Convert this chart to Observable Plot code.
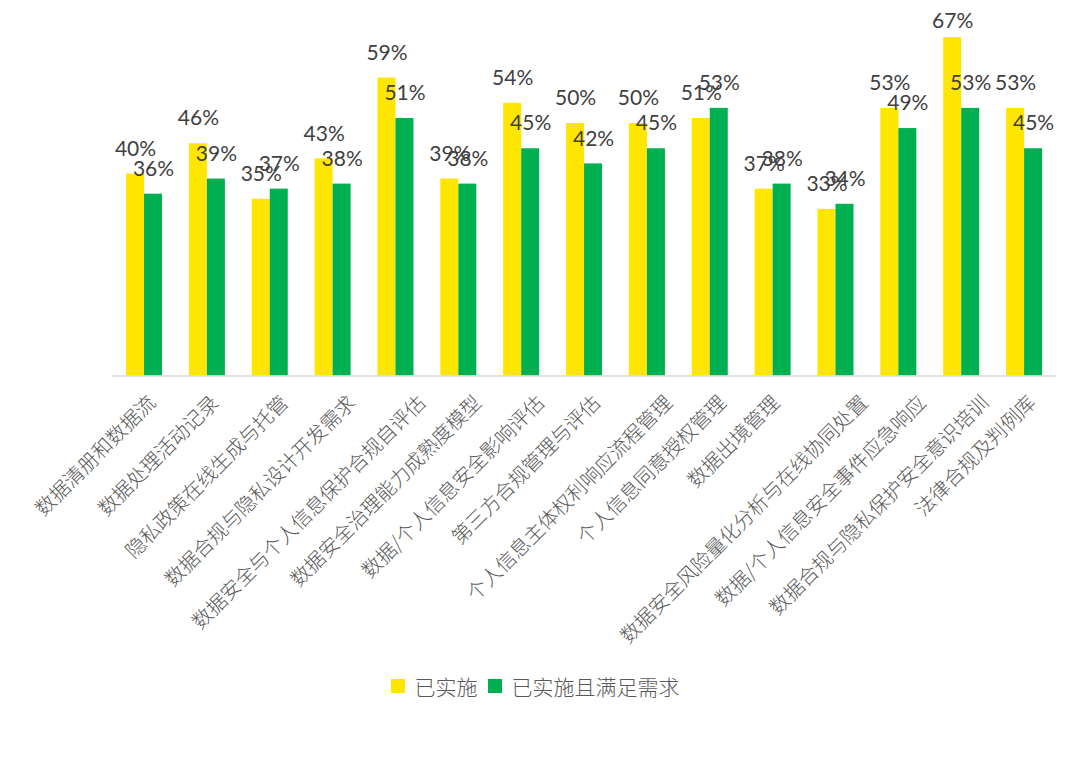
<!DOCTYPE html>
<html>
<head>
<meta charset="utf-8">
<script src="https://cdn.jsdelivr.net/npm/d3@7"></script>
<script src="https://cdn.jsdelivr.net/npm/@observablehq/plot@0.6"></script>
<style>
  html, body { margin: 0; padding: 0; background: #fff; }
  #chart svg { display: block; }
  .legend { display: flex; justify-content: center; align-items: center; height: 28px; padding-top: 12px;
    font-family: "Noto Sans CJK SC", sans-serif; font-size: 21px; color: #595959; font-weight: 300; }
  .legend .sw { width: 14px; height: 14px; display: inline-block; margin-right: 10px; }
  .legend .item { display: flex; align-items: center; margin-right: 10px; }
</style>
</head>
<body>
<div id="chart"></div>
<script>
const categories = [
  "数据清册和数据流",
  "数据处理活动记录",
  "隐私政策在线生成与托管",
  "数据合规与隐私设计开发需求",
  "数据安全与个人信息保护合规自评估",
  "数据安全治理能力成熟度模型",
  "数据/个人信息安全影响评估",
  "第三方合规管理与评估",
  "个人信息主体权利响应流程管理",
  "个人信息同意授权管理",
  "数据出境管理",
  "数据安全风险量化分析与在线协同处置",
  "数据/个人信息安全事件应急响应",
  "数据合规与隐私保护安全意识培训",
  "法律合规及判例库"
];
const implemented = [0.40, 0.46, 0.35, 0.43, 0.59, 0.39, 0.54, 0.50, 0.50, 0.51, 0.37, 0.33, 0.53, 0.67, 0.53];
const satisfied   = [0.36, 0.39, 0.37, 0.38, 0.51, 0.38, 0.45, 0.42, 0.45, 0.53, 0.38, 0.34, 0.49, 0.53, 0.45];
const seriesNames = ["已实施", "已实施且满足需求"];
const seriesColors = ["#FFE600", "#00B050"];

const data = categories.map((c, i) => ({cat: c, impl: implemented[i], met: satisfied[i]}));
const pct = v => Math.round(v * 100) + "%";

const bw = (1080 - 112.6 - 24.5) / categories.length;
const half = bw / 2;
const barW = 18;
const numFont = "Lato, 'Open Sans', sans-serif";
const labelCap = 0.652; // Excel keeps data labels inside the chart area
const labelY = v => Math.min(v, labelCap);

// Excel-like rotated category labels: longer labels sit a little further right
const catLabels = categories.map(c =>
  Plot.text([c], {x: d => d, text: d => d, frameAnchor: "bottom", rotate: -45, textAnchor: "end",
    dx: 2.3 * c.length - 6, dy: 28, fontSize: 20, fontWeight: 300, fill: "#595959",
    fontFamily: "'Noto Sans CJK SC', sans-serif"})
);

const chart = Plot.plot({
  width: 1080,
  height: 660,
  marginLeft: 112.6,
  marginRight: 24.5,
  marginTop: 22,
  marginBottom: 284.5,
  x: {domain: categories, padding: 0, round: false, axis: null},
  y: {domain: [0, 0.7], axis: null},
  marks: [
    Plot.barY(data, {x: "cat", y: "impl", fill: seriesColors[0], insetLeft: half - barW, insetRight: half}),
    Plot.barY(data, {x: "cat", y: "met", fill: seriesColors[1], insetLeft: half, insetRight: half - barW}),
    Plot.ruleY([0], {stroke: "#d9d9d9", strokeWidth: 1.5}),
    Plot.text(data, {x: "cat", y: d => labelY(d.impl), text: d => pct(d.impl), dx: -barW / 2, dy: -25,
      fill: "#404040", fontSize: 21, fontFamily: numFont}),
    Plot.text(data, {x: "cat", y: d => labelY(d.met), text: d => pct(d.met), dx: barW / 2, dy: -25,
      fill: "#404040", fontSize: 21, fontFamily: numFont}),
    ...catLabels
  ]
});
document.getElementById("chart").appendChild(chart);

const legend = document.createElement("div");
legend.className = "legend";
seriesNames.forEach((n, i) => {
  const item = document.createElement("span");
  item.className = "item";
  const sw = document.createElement("span");
  sw.className = "sw";
  sw.style.background = seriesColors[i];
  item.appendChild(sw);
  item.appendChild(document.createTextNode(n));
  legend.appendChild(item);
});
document.getElementById("chart").appendChild(legend);
</script>
</body>
</html>
